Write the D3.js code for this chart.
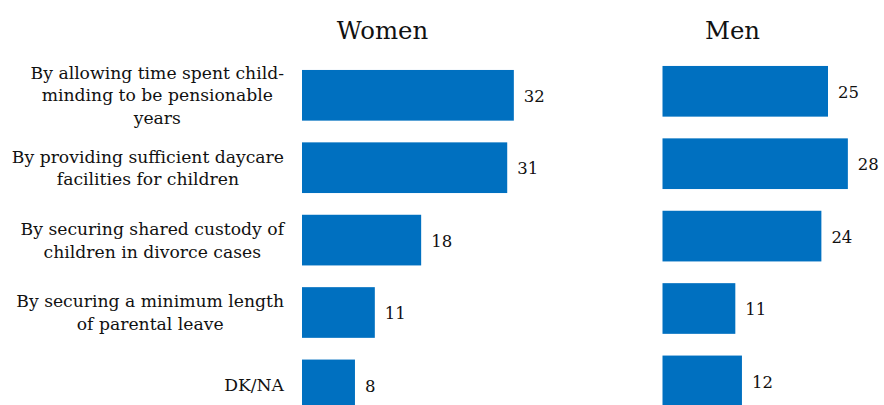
<!DOCTYPE html>
<html>
<head>
<meta charset="utf-8">
<script src="https://cdn.jsdelivr.net/npm/d3@7"></script>
<style>
  html, body { margin: 0; padding: 0; background: #fff; }
  svg { display: block; }
  text { font-family: "DejaVu Serif", Georgia, serif; fill: #111; }
</style>
</head>
<body>
<svg id="chart" width="884" height="405"></svg>
<script>
const categories = [
  ["By allowing time spent child-", "minding to be pensionable", "years"],
  ["By providing sufficient daycare", "facilities for children"],
  ["By securing shared custody of", "children in divorce cases"],
  ["By securing a minimum length", "of parental leave"],
  ["DK/NA"]
];
const categoryKeys = ["pension", "daycare", "custody", "leave", "dkna"];
const women = [32, 31, 18, 11, 8];
const men = [25, 28, 24, 11, 12];
const panelTitles = ["Women", "Men"];

const svg = d3.select("#chart");
const barColor = "#0070C0";
const labelFont = 17.2;

const panels = [
  { title: panelTitles[0], values: women, x0: 302, yStart: 59.1, titleX: 382.5 },
  { title: panelTitles[1], values: men, x0: 662.5, yStart: 55.1, titleX: 732.5 }
];
const unit = 6.62;
const maxV = 40;

panels.forEach((p, pi) => {
  const x = d3.scaleLinear().domain([0, maxV]).range([p.x0, p.x0 + unit * maxV]);
  const y = d3.scaleBand().domain(categoryKeys)
    .range([p.yStart, p.yStart + 72.4 * categoryKeys.length])
    .paddingInner(0.3).paddingOuter(0.15);
  p.y = y;
  const g = svg.append("g");
  g.append("text")
    .attr("x", p.titleX).attr("y", 39.3)
    .attr("text-anchor", "middle")
    .style("font-size", "24.4px")
    .text(p.title);
  g.selectAll("rect").data(p.values).join("rect")
    .attr("x", x(0))
    .attr("y", (d, i) => y(categoryKeys[i]))
    .attr("width", d => x(d) - x(0))
    .attr("height", y.bandwidth())
    .attr("fill", barColor);
  g.selectAll("text.val").data(p.values).join("text")
    .attr("class", "val")
    .attr("x", d => x(d) + 10)
    .attr("y", (d, i) => y(categoryKeys[i]) + y.bandwidth() / 2)
    .attr("dy", "0.4em")
    .style("font-size", "16.5px")
    .text(d => d);
});

// Category labels, aligned to women bars
const yW = panels[0].y;
const lineH = 22.5;
const labelRight = 284;
categories.forEach((lines, i) => {
  const cy = yW(categoryKeys[i]) + yW.bandwidth() / 2;
  const t = svg.append("text").style("font-size", labelFont + "px");
  const n = lines.length;
  const tspans = lines.map((ln, j) => t.append("tspan")
    .attr("y", cy + (j - (n - 1) / 2) * lineH)
    .attr("dy", "0.36em")
    .attr("text-anchor", "middle")
    .text(ln));
  const maxW = d3.max(tspans, ts => ts.node().getComputedTextLength());
  tspans.forEach(ts => ts.attr("x", labelRight - maxW / 2));
});
</script>
</body>
</html>
